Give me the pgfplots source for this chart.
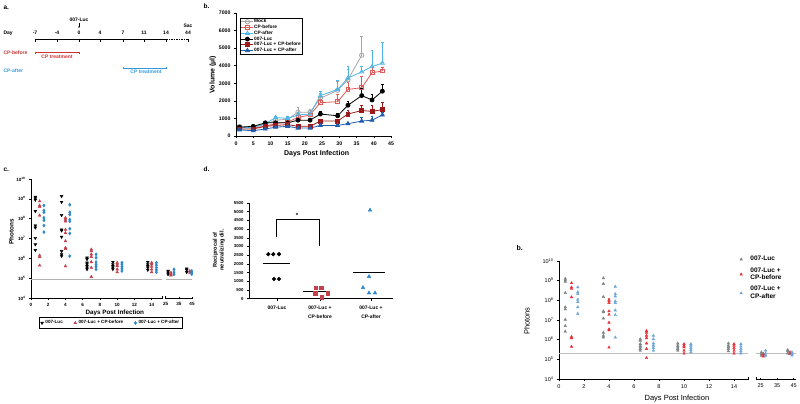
\documentclass[border=0pt]{standalone}
\usepackage{pgfplots}
\pgfplotsset{compat=1.18}
\usepackage{pgfplotstable}
\usepackage{fontspec}
\setmainfont{Liberation Sans}
\usetikzlibrary{arrows.meta}

\definecolor{mockg}{HTML}{A6A6A6}
\definecolor{cpb}{HTML}{E25B5B}
\definecolor{cpa}{HTML}{4DB6E8}
\definecolor{lb}{HTML}{9E1A1A}
\definecolor{la}{HTML}{1F5FAD}
\definecolor{cred}{HTML}{C2414B}
\definecolor{cblue}{HTML}{2B8ACF}
\definecolor{bgray}{HTML}{7D8787}
\definecolor{bred}{HTML}{E8333B}
\definecolor{bblue}{HTML}{6BA7DC}
\definecolor{tred}{HTML}{CC3333}
\definecolor{tblue}{HTML}{3399DD}

\pgfplotsset{
  prism/.style={scale only axis, anchor=south west, axis lines=left,
    axis line style={-, line width=0.6pt}, tick align=outside,
    tick style={black, line width=0.5pt}, major tick length=2pt, clip=false,
    /pgf/number format/assume math mode=true, /pgf/number format/1000 sep={},
    minor tick num=0},
  photony/.style={ymin=1e4, ymax=1e10, yminorticks=false,
    ytick={1e4,1e5,1e6,1e7,1e8,1e9,1e10},
    yticklabels={10\textsuperscript{4},10\textsuperscript{5},10\textsuperscript{6},10\textsuperscript{7},10\textsuperscript{8},10\textsuperscript{9},10\textsuperscript{10}}},
}

% ---------- volume data (panel b, top) ----------
\pgfplotstableread{
x y e
1 540 60
5 500 50
8.5 650 80
11.5 900 120
15 950 120
18 1350 300
21.5 1350 150
24.5 2150 300
29.5 2600 500
32.5 3200 600
36.5 4600 1050
}\vMock
\pgfplotstableread{
x y e
1 500 50
5 450 50
8.5 560 60
11.5 700 80
15 800 80
18 1050 200
21.5 1200 150
24.5 1900 200
29.5 1950 400
32.5 2650 400
36.5 2750 650
39.5 3600 400
42.5 3700 200
}\vCPb
\pgfplotstableread{
x y e
1 450 50
5 500 50
8.5 700 80
11.5 1050 100
15 1000 100
18 1200 150
21.5 1250 100
24.5 2300 250
29.5 2650 550
32.5 3300 650
36.5 3650 300
39.5 3950 950
42.5 4150 1200
}\vCPa
\pgfplotstableread{
x y e
1 500 50
5 550 50
8.5 750 60
11.5 750 80
15 750 80
18 900 100
21.5 900 100
24.5 1250 150
29.5 1150 150
32.5 1750 200
36.5 2300 400
39.5 2050 350
42.5 2550 400
}\vLuc
\pgfplotstableread{
x y e
1 400 50
5 400 50
8.5 550 50
11.5 600 60
15 650 60
18 550 60
21.5 550 60
24.5 850 100
29.5 850 100
32.5 1250 200
36.5 1450 300
39.5 1400 350
42.5 1500 400
}\vLb
\pgfplotstableread{
x y e
1 350 50
5 300 50
8.5 400 50
11.5 500 50
15 550 50
18 450 50
21.5 450 50
24.5 600 80
29.5 600 80
32.5 700 100
36.5 850 200
39.5 900 200
42.5 1200 150
}\vLa

% ---------- photon data (days 0-14) ----------
\pgfplotstableread{
x y
0.5 1.26e9
0.5 1.05e9
0.5 8.9e8
0.5 2.4e8
0.5 4.5e7
0.5 3.5e7
0.5 1.05e7
0.5 5e6
0.5 2.6e6
3.55 1.35e9
3.55 6.9e8
3.55 1.5e8
3.55 2.8e7
3.55 2.5e7
3.55 1.2e7
3.55 2.3e6
3.55 1.6e6
3.55 1.3e6
6.5 1.07e6
6.5 9e5
6.5 6e5
6.5 5e5
6.5 4.1e5
6.5 3.4e5
6.5 2.8e5
9.5 6.5e5
9.5 5e5
9.5 4.1e5
9.5 3.4e5
9.5 2.8e5
13.55 6.5e5
13.55 5e5
13.55 4.1e5
13.55 3.4e5
13.55 2.6e5
}\pLuc
\pgfplotstableread{
x y
1 7.6e8
1 4.6e8
1 3.9e8
1 1.45e8
1 1.4e6
1 1.2e6
1 4.4e5
4 1.1e8
4 9e7
4 7.4e7
4 2.8e7
4 1.9e7
4 7.4e6
4 3.4e6
4 3e6
4 4e5
7 2.8e6
7 2.3e6
7 1.6e6
7 1.2e6
7 6.5e5
7 3.4e5
7 1.17e5
10 6e5
10 5e5
10 4.1e5
10 2.8e5
10 2e5
14 6e5
14 5e5
14 3.8e5
14 2.8e5
14 2e5
}\pBef
\pgfplotstableread{
x y
1.5 4.6e8
1.5 2.6e8
1.5 2.1e8
1.5 1.1e8
1.5 8.3e7
1.5 4.5e7
1.5 2.1e7
4.5 5e8
4.5 2.1e8
4.5 1.6e8
4.5 9e7
4.5 7.4e7
4.5 3.1e7
4.5 1.8e7
4.5 1.3e6
7.55 1.6e6
7.55 1.07e6
7.55 6.5e5
7.55 5e5
7.55 3.8e5
7.55 2.8e5
10.55 6e5
10.55 5e5
10.55 3.8e5
10.55 3e5
10.55 2.3e5
14.55 6e5
14.55 4.5e5
14.55 3.4e5
14.55 2.6e5
14.55 2e5
}\pAft
% ---------- photon data (days 25-45), panel c ----------
\pgfplotstableread{
x y
26.8 2.3e5
26.8 1.9e5
26.8 1.55e5
41 3e5
41 2.6e5
41 2e5
}\cLucR
\pgfplotstableread{
x y
29 1.9e5
29 1.55e5
29 1.4e5
43.3 2.3e5
43.3 1.9e5
}\cBefR
\pgfplotstableread{
x y
31.3 2.8e5
31.3 2e5
31.3 1.55e5
44.8 2.3e5
44.8 1.9e5
44.8 1.6e5
}\cAftR
% ---------- photon data (days 25-45), panel b bottom ----------
\pgfplotstableread{
x y
25.5 2.3e5
25.5 1.9e5
25.5 1.55e5
41.4 3e5
41.4 2.6e5
41.4 2e5
}\bLucR
\pgfplotstableread{
x y
26.8 1.9e5
26.8 1.55e5
26.8 1.4e5
42.8 2.3e5
42.8 1.9e5
}\bBefR
\pgfplotstableread{
x y
28 2.8e5
28 2e5
28 1.55e5
44 2.3e5
44 1.9e5
44 1.6e5
}\bAftR

% ---------- neutralization data (panel d) ----------
\pgfplotstableread{
x y
19.3 2560
24.3 2560
30 2560
25 1130
30 1130
}\dLuc
\pgfplotstableread{
x y
66.7 620
72.3 620
66 310
78.7 310
72.7 80
}\dBef
\pgfplotstableread{
x y
121 5090
120 1270
114 636
120 330
126 330
}\dAft

\begin{document}
\begin{tikzpicture}
\useasboundingbox (0,0) rectangle (800pt,404pt);
\fill[white] (0,0) rectangle (800pt,404pt);

% ================= panel a : timeline =================
\begin{scope}[font=\fontsize{5}{6}\selectfont\bfseries]
\node[anchor=west] at (0pt,396pt) {\fontsize{6.5}{7}\selectfont a.};
\node at (79pt,384pt) {007-Luc};
\draw[-{Stealth[length=1.6pt,width=1.6pt]}, line width=0.4pt] (79pt,381pt) -- (79pt,376pt);
\node[anchor=west] at (0pt,371pt) {Day};
\foreach \x/\l in {35/-7,57/-4,79/0,100/4,123/7,144/11,166/14,188/44}
  \node at (\x pt,371pt) {\l};
\node at (188pt,378pt) {Sac};
\draw[line width=0.6pt] (35pt,365pt) -- (166pt,365pt);
\draw[line width=0.6pt, dash pattern=on 1.5pt off 1pt] (166pt,365pt) -- (188pt,365pt);
\foreach \x in {35,57,79,100,123,144,166,188}
  \draw[line width=0.6pt] (\x pt,365.3pt) -- (\x pt,361.8pt);
\node[anchor=west, text=tred] at (0pt,351pt) {CP-before};
\draw[tred, line width=0.6pt] (35pt,352.3pt) -- (35pt,350pt) (35pt,351.3pt) -- (79pt,351.3pt) (79pt,352.3pt) -- (79pt,350pt);
\node[text=tred] at (57pt,347pt) {CP treatment};
\node[anchor=west, text=tblue] at (0pt,333pt) {CP-after};
\draw[tblue, line width=0.6pt] (123pt,336.8pt) -- (123pt,334.5pt) (123pt,335.7pt) -- (166pt,335.7pt) (166pt,336.8pt) -- (166pt,334.5pt);
\node[text=tblue] at (146pt,331.8pt) {CP treatment};
\end{scope}

% ================= panel b : volume =================
\node[anchor=west, font=\fontsize{6.5}{7}\selectfont\bfseries] at (200pt,398pt) {b.};
\begin{axis}[prism, at={(236pt,268pt)}, width=155pt, height=123pt,
  xmin=0, xmax=45, ymin=0, ymax=7000,
  xtick={0,5,...,45}, ytick={0,1000,...,7000},
  ticklabel style={font=\fontsize{5.2}{6}\selectfont\bfseries},
  xlabel={Days Post Infection}, ylabel={Volume (µl)},
  label style={font=\fontsize{7}{8}\selectfont\bfseries},
  xlabel style={at={(axis description cs:0.52,-0.146)}, anchor=center},
  ylabel style={at={(axis description cs:-0.15,0.5)}, anchor=center},
  legend cell align=left,
  legend style={at={(axis description cs:0.026,0.96)}, anchor=north west,
    draw=black, line width=0.4pt, font=\fontsize{4.8}{5.5}\selectfont\bfseries,
    inner sep=0.8pt, row sep=0pt, nodes={inner sep=0.4pt}},
  legend image code/.code={\draw[mark repeat=2,mark phase=2,#1] plot coordinates {(0pt,0pt)(6pt,0pt)(12pt,0pt)};},
  every axis plot/.append style={line width=0.8pt},
  error bars/error bar style={line width=0.5pt},
  error bars/error mark options={rotate=90, mark size=1.4pt, line width=0.5pt}]
\addplot[color=mockg, mark=o, mark size=2.2pt, mark options={fill=white}, error bars/.cd, y dir=plus, y explicit] table[x=x,y=y,y error=e] {\vMock};
\addlegendentry{Mock}
\addplot[color=cpb, mark=square, mark size=1.9pt, mark options={fill=white}, error bars/.cd, y dir=plus, y explicit] table[x=x,y=y,y error=e] {\vCPb};
\addlegendentry{CP-before}
\addplot[color=cpa, mark=triangle, mark size=2.2pt, mark options={fill=white}, error bars/.cd, y dir=plus, y explicit] table[x=x,y=y,y error=e] {\vCPa};
\addlegendentry{CP-after}
\addplot[color=black, mark=*, mark size=2pt, error bars/.cd, y dir=plus, y explicit] table[x=x,y=y,y error=e] {\vLuc};
\addlegendentry{007-Luc}
\addplot[color=lb, mark=square*, mark size=1.9pt, error bars/.cd, y dir=plus, y explicit] table[x=x,y=y,y error=e] {\vLb};
\addlegendentry{007-Luc + CP-before}
\addplot[color=la, mark=triangle*, mark size=2.2pt, error bars/.cd, y dir=plus, y explicit] table[x=x,y=y,y error=e] {\vLa};
\addlegendentry{007-Luc + CP-after}
\end{axis}

% ================= panel c : photons =================
\node[anchor=west, font=\fontsize{6.5}{7}\selectfont\bfseries] at (0pt,234pt) {c.};
\begin{axis}[prism, ymode=log, photony, at={(31pt,106pt)}, width=131pt, height=119pt,
  xmin=0, xmax=15.2, xtick={0,2,...,14},
  ticklabel style={font=\fontsize{4.6}{5}\selectfont\bfseries},
  xlabel={Days Post Infection}, ylabel={Photons},
  label style={font=\fontsize{6.3}{7}\selectfont\bfseries},
  xlabel style={at={(axis description cs:0.64,-0.128)}, anchor=center},
  ylabel style={at={(axis description cs:-0.15,0.555)}, anchor=center},
  legend columns=3,
  legend style={at={(axis description cs:0.61,-0.21)}, anchor=center,
    draw=black, line width=0.4pt, font=\fontsize{4.6}{5}\selectfont\bfseries,
    inner sep=1pt, /tikz/every even column/.append style={column sep=9pt}}]
\addplot[color=gray!60, line width=0.6pt, forget plot] coordinates {(0,8.5e4) (15.2,8.5e4)};
\addplot[only marks, black, mark=triangle*, mark size=1.6pt, mark options={rotate=180}] table[x=x,y=y] {\pLuc};
\addlegendentry{007-Luc}
\addplot[only marks, cred, mark=triangle*, mark size=1.6pt] table[x=x,y=y] {\pBef};
\addlegendentry{007-Luc + CP-before}
\addplot[only marks, cblue, mark=diamond*, mark size=1.6pt] table[x=x,y=y] {\pAft};
\addlegendentry{007-Luc + CP-after}
\draw[line width=0.5pt] ([yshift=-1.5pt]axis cs:15.2,1e4) -- ([yshift=1.5pt]axis cs:15.2,1e4);
\end{axis}
\begin{axis}[prism, ymode=log, photony, at={(165.7pt,106pt)}, width=26.3pt, height=119pt,
  axis y line=none, axis x line=bottom, axis line style={-, line width=0.6pt},
  xmin=25, xmax=45, xtick={25,35,45},
  ticklabel style={font=\fontsize{4.6}{5}\selectfont\bfseries}]
\addplot[color=gray!60, line width=0.6pt] coordinates {(25,8.5e4) (45,8.5e4)};
\addplot[only marks, black, mark=triangle*, mark size=1.6pt, mark options={rotate=180}] table[x=x,y=y] {\cLucR};
\addplot[only marks, cred, mark=triangle*, mark size=1.6pt] table[x=x,y=y] {\cBefR};
\addplot[only marks, cblue, mark=diamond*, mark size=1.6pt] table[x=x,y=y] {\cAftR};
\draw[line width=0.5pt] ([yshift=-1.5pt]axis cs:25,1e4) -- ([yshift=1.5pt]axis cs:25,1e4);
\end{axis}

% ================= panel d : neutralization =================
\node[anchor=west, font=\fontsize{6.5}{7}\selectfont\bfseries] at (200pt,235pt) {d.};
\begin{axis}[prism, at={(249pt,105.3pt)}, width=144pt, height=95.7pt,
  xmin=0, xmax=144, ymin=0, ymax=5500,
  ytick={0,500,...,5500}, xtick={28,71,122},
  xticklabels={007-Luc,{007-Luc +\\CP-before},{007-Luc +\\CP-after}},
  xticklabel style={align=center, font=\fontsize{5}{8.5}\selectfont\bfseries, yshift=-2pt},
  yticklabel style={font=\fontsize{4.3}{5}\selectfont\bfseries},
  ylabel={Reciprocal of\\neutralizing dil.},
  ylabel style={at={(axis description cs:-0.21,0.51)}, anchor=center, align=center,
    font=\fontsize{5.6}{6.8}\selectfont\bfseries}]
\addplot[only marks, black, mark=*, mark size=1.9pt] table[x=x,y=y] {\dLuc};
\addplot[only marks, cred, mark=square*, mark size=1.7pt] table[x=x,y=y] {\dBef};
\addplot[only marks, cblue, mark=triangle*, mark size=2.1pt] table[x=x,y=y] {\dAft};
\addplot[black, line width=0.7pt] coordinates {(13.7,2060) (41,2060)};
\addplot[black, line width=0.7pt] coordinates {(54.3,405) (80,405)};
\addplot[black, line width=0.7pt] coordinates {(104,1540) (136,1540)};
\addplot[black, line width=0.5pt] coordinates {(27,3560) (27,4590) (70,4590) (70,3050)};
\node[font=\fontsize{6}{6}\selectfont\bfseries] at (axis cs:48,4780) {*};
\end{axis}

% ================= panel b (bottom right) : photons =================
\node[anchor=west, font=\fontsize{7}{8}\selectfont\bfseries] at (513pt,156pt) {b.};
\begin{axis}[prism, ymode=log, photony, at={(559pt,25pt)}, width=189pt, height=118pt,
  xmin=0, xmax=15.12, xtick={0,2,...,14},
  ticklabel style={font=\fontsize{5.5}{6}\selectfont},
  xlabel={Days Post Infection}, ylabel={Photons},
  label style={font=\fontsize{7.5}{8}\selectfont},
  xlabel style={at={(axis description cs:0.624,-0.17)}, anchor=center},
  ylabel style={at={(axis description cs:-0.169,0.49)}, anchor=center},
  legend cell align=left,
  legend style={at={(axis description cs:0.94,1.075)}, anchor=north west,
    draw=none, fill=none, font=\fontsize{6.5}{7.6}\selectfont\bfseries,
    cells={align=left}, row sep=1.2pt, /tikz/every odd column/.append style={column sep=6pt}}]
\addplot[color=gray!50, line width=0.6pt, forget plot] coordinates {(0,2.1e5) (15.12,2.1e5)};
\addplot[only marks, bgray, mark=triangle*, mark size=1.5pt] table[x=x,y=y] {\pLuc};
\addlegendentry{007-Luc}
\addplot[only marks, bred, mark=triangle*, mark size=1.5pt] table[x=x,y=y] {\pBef};
\addlegendentry{007-Luc +\\CP-before}
\addplot[only marks, bblue, mark=triangle*, mark size=1.5pt] table[x=x,y=y] {\pAft};
\addlegendentry{007-Luc +\\CP-after}
\draw[line width=0.5pt] ([yshift=-1.5pt]axis cs:15.12,1e4) -- ([yshift=1.5pt]axis cs:15.12,1e4);
\end{axis}
\begin{axis}[prism, ymode=log, photony, at={(756pt,25pt)}, width=40.1pt, height=118pt,
  axis y line=none, axis x line=bottom, axis line style={-, line width=0.6pt},
  xmin=22.2, xmax=46.5, xtick={25,35,45},
  ticklabel style={font=\fontsize{5.5}{6}\selectfont}]
\addplot[color=gray!50, line width=0.6pt] coordinates {(22.2,2.1e5) (46.5,2.1e5)};
\addplot[only marks, bgray, mark=triangle*, mark size=1.5pt] table[x=x,y=y] {\bLucR};
\addplot[only marks, bred, mark=triangle*, mark size=1.5pt] table[x=x,y=y] {\bBefR};
\addplot[only marks, bblue, mark=triangle*, mark size=1.5pt] table[x=x,y=y] {\bAftR};
\draw[line width=0.5pt] ([yshift=-1.5pt]axis cs:22.2,1e4) -- ([yshift=1.5pt]axis cs:22.2,1e4);
\end{axis}
\end{tikzpicture}
\end{document}
